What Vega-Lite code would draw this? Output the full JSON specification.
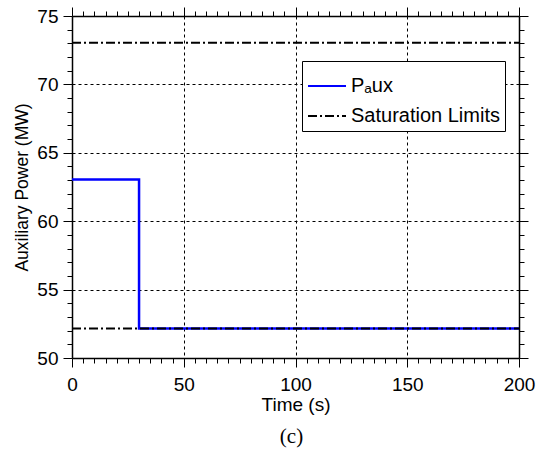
{
  "$schema": "https://vega.github.io/schema/vega-lite/v6.json",
  "width": 447,
  "height": 342,
  "autosize": {"type": "none"},
  "padding": {"left": 72, "top": 16, "right": 18, "bottom": 102},
  "background": "white",
  "config": {
    "view": {"stroke": null},
    "font": "Liberation Sans",
    "axis": {"domainColor": "black", "domainWidth": 1.5, "tickColor": "black", "tickWidth": 1, "labelColor": "black", "titleColor": "black", "labelFont": "Liberation Sans", "titleFont": "Liberation Sans", "labelFontSize": 19, "titleFontSize": 18, "titleFontWeight": "normal", "labelOverlap": false, "labelFlush": false},
    "legend": {"orient": "none", "legendX": 230, "legendY": 45, "title": null, "strokeColor": "black", "fillColor": "white", "padding": 5, "symbolType": "stroke", "symbolSize": 1444, "symbolStrokeWidth": 2, "labelFont": "Liberation Sans", "labelFontSize": 20, "labelColor": "black", "rowPadding": 0, "labelOffset": 4}
  },
  "title": {"text": "(c)", "orient": "bottom", "font": "Liberation Serif", "fontSize": 21, "fontWeight": "normal", "color": "black", "offset": 12, "dx": -4},
  "datasets": {
    "paux": [
      {"t": 0, "v": 63.05, "series": "Pₐux"},
      {"t": 30, "v": 63.05, "series": "Pₐux"},
      {"t": 30, "v": 52.15, "series": "Pₐux"},
      {"t": 200, "v": 52.15, "series": "Pₐux"}
    ],
    "limits": [
      {"t": 0, "v": 73.05, "series": "Saturation Limits", "seg": "upper"},
      {"t": 200, "v": 73.05, "series": "Saturation Limits", "seg": "upper"},
      {"t": 0, "v": 52.15, "series": "Saturation Limits", "seg": "lower"},
      {"t": 200, "v": 52.15, "series": "Saturation Limits", "seg": "lower"}
    ]
  },
  "layer": [
    {
      "data": {"name": "paux"},
      "mark": {"type": "line", "strokeWidth": 2.5, "clip": true},
      "encoding": {
        "x": {"field": "t", "type": "quantitative", "scale": {"domain": [0, 200], "nice": false},
          "axis": {"orient": "bottom", "title": "Time (s)", "titlePadding": 1, "titleFontSize": 19,
            "values": [0,5,10,15,20,25,30,35,40,45,50,55,60,65,70,75,80,85,90,95,100,105,110,115,120,125,130,135,140,145,150,155,160,165,170,175,180,185,190,195,200],
            "labelExpr": "datum.value % 50 === 0 ? datum.label : ''",
            "tickSize": {"condition": {"test": "datum.value % 50 === 0", "value": 9}, "value": 5},
            "labelPadding": 8,
            "grid": true, "gridColor": "black", "gridDash": [3, 3], "gridWidth": 1,
            "gridOpacity": {"condition": {"test": "datum.value % 50 === 0 && datum.value > 0 && datum.value < 200", "value": 1}, "value": 0}}},
        "y": {"field": "v", "type": "quantitative", "scale": {"domain": [50, 75], "nice": false, "zero": false},
          "axis": {"orient": "left", "title": "Auxiliary Power (MW)", "titlePadding": 5, "titleFontSize": 17.5,
            "values": [50,51,52,53,54,55,56,57,58,59,60,61,62,63,64,65,66,67,68,69,70,71,72,73,74,75],
            "labelExpr": "datum.value % 5 === 0 ? datum.label : ''",
            "tickSize": {"condition": {"test": "datum.value % 5 === 0", "value": 9}, "value": 5},
            "labelPadding": 5,
            "grid": true, "gridColor": "black", "gridDash": [3, 3], "gridWidth": 1,
            "gridOpacity": {"condition": {"test": "datum.value % 5 === 0 && datum.value > 50 && datum.value < 75", "value": 1}, "value": 0}}},
        "color": {"field": "series", "type": "nominal",
          "scale": {"domain": ["Pₐux", "Saturation Limits"], "range": ["#0000ff", "black"]}},
        "strokeDash": {"field": "series", "type": "nominal",
          "scale": {"domain": ["Pₐux", "Saturation Limits"], "range": [[1, 0], [9, 3, 2, 3]]}}
      }
    },
    {
      "data": {"name": "limits"},
      "mark": {"type": "line", "strokeWidth": 2, "clip": true},
      "encoding": {
        "x": {"field": "t", "type": "quantitative",
          "axis": {"orient": "top", "title": null, "labels": false,
            "values": [0,5,10,15,20,25,30,35,40,45,50,55,60,65,70,75,80,85,90,95,100,105,110,115,120,125,130,135,140,145,150,155,160,165,170,175,180,185,190,195,200],
            "tickSize": {"condition": {"test": "datum.value % 50 === 0", "value": 9}, "value": 5},
            "grid": false}},
        "y": {"field": "v", "type": "quantitative",
          "axis": {"orient": "right", "title": null, "labels": false,
            "values": [50,51,52,53,54,55,56,57,58,59,60,61,62,63,64,65,66,67,68,69,70,71,72,73,74,75],
            "tickSize": {"condition": {"test": "datum.value % 5 === 0", "value": 9}, "value": 5},
            "grid": false}},
        "detail": {"field": "seg", "type": "nominal"},
        "color": {"field": "series", "type": "nominal"},
        "strokeDash": {"field": "series", "type": "nominal"}
      }
    }
  ]
}
